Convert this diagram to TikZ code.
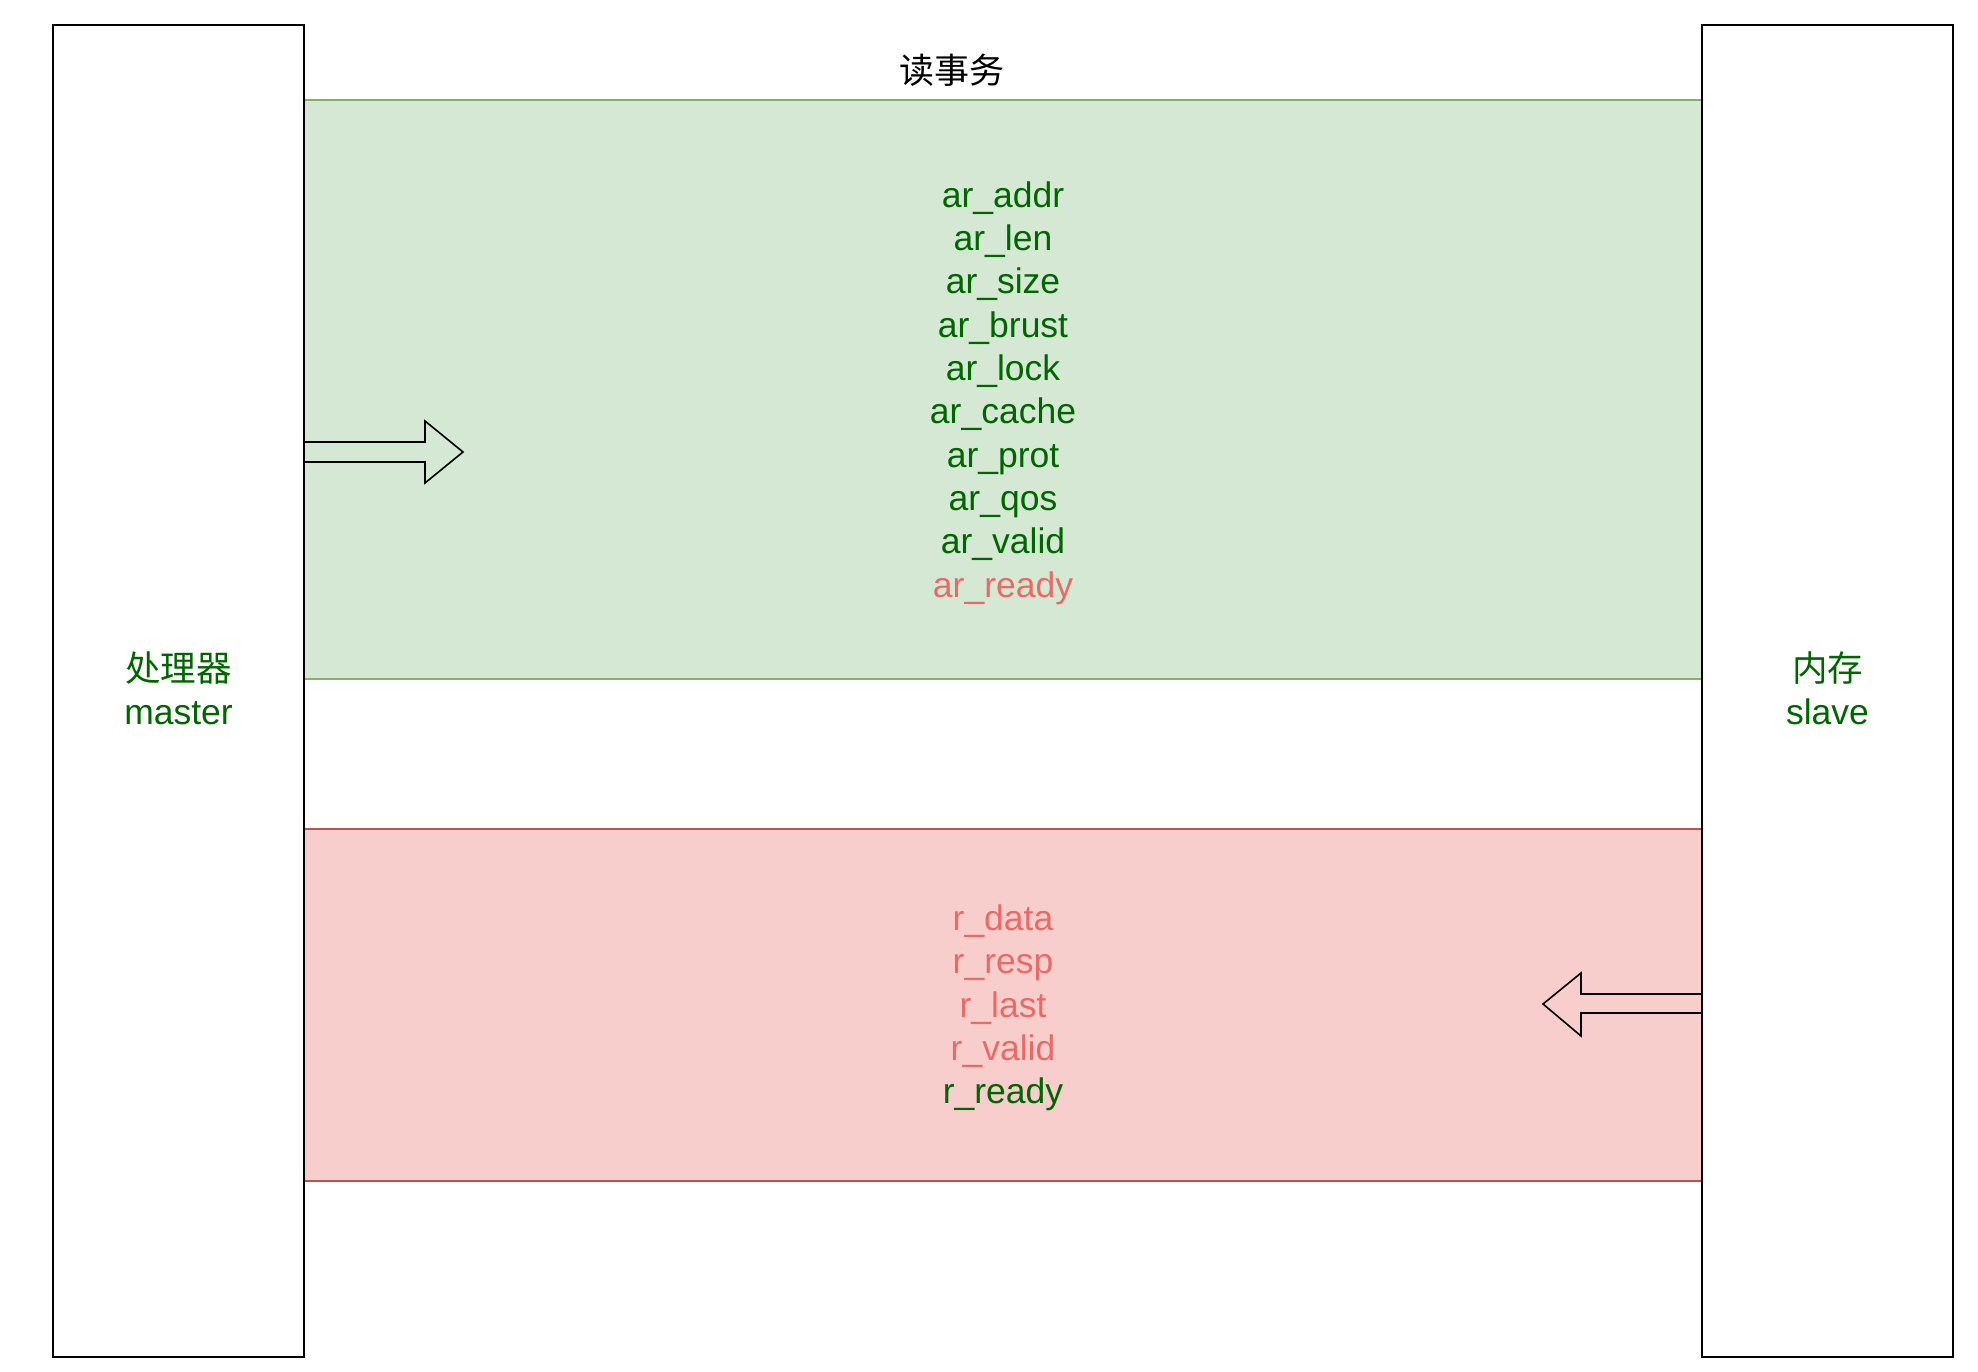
\documentclass[tikz,border=0pt]{standalone}
\usepackage{fontspec}
\setmainfont{Liberation Sans}
\newfontfamily\cjk{Noto Sans CJK SC}
\definecolor{gfill}{HTML}{D5E8D4}
\definecolor{gline}{HTML}{82B366}
\definecolor{rfill}{HTML}{F8CECC}
\definecolor{rline}{HTML}{B85450}
\definecolor{gtext}{HTML}{006600}
\definecolor{rtext}{HTML}{EA6B66}
\newcommand\labelfont{\fontsize{35.5}{43.3}\selectfont\lineskiplimit=-50pt\relax}
\begin{document}
\begin{tikzpicture}[x=1pt,y=-1pt,
  party/.style={draw=black,line width=1.6pt,fill=white},
  band/.style={line width=1.4pt},
  lbl/.style={font=\labelfont,align=center,inner sep=0pt},
  blockarrow/.style={draw=black,line width=1.6pt,fill=none,line join=miter}]
\useasboundingbox (0,0) rectangle (1978,1372);
% bands
\path[band,fill=gfill,draw=gline] (304,100) rectangle (1702,679);
\path[band,fill=rfill,draw=rline] (304,829) rectangle (1702,1181);
% parties
\node[party,minimum width=251pt,minimum height=1332pt,inner sep=0pt] (master) at (178.5,691) {};
\node[party,minimum width=251pt,minimum height=1332pt,inner sep=0pt] (slave) at (1827.5,691) {};
\node[lbl,text=gtext] (mlabel) at (178.5,688.5) {{\cjk 处理器}\\master};
\node[lbl,text=gtext] (slabel) at (1827.5,688.5) {{\cjk 内存}\\slave};
% title
\node[lbl,text=black,font=\cjk\fontsize{35}{43.3}\selectfont] (title) at (952,70) {读事务};
% signal lists
\node[lbl,text=gtext] (arlist) at (1003,393) {ar\_addr\\ar\_len\\ar\_size\\ar\_brust\\ar\_lock\\ar\_cache\\ar\_prot\\ar\_qos\\ar\_valid\\\textcolor{rtext}{ar\_ready}};
\node[lbl,text=rtext] (rlist) at (1003,1008) {r\_data\\r\_resp\\r\_last\\r\_valid\\\textcolor{gtext}{r\_ready}};
% block arrows
\draw[blockarrow] (304,442) -- (425,442) -- (425,421) -- (463,452) -- (425,483) -- (425,462) -- (304,462) -- cycle;
\draw[blockarrow] (1702,994) -- (1581,994) -- (1581,973) -- (1543,1004) -- (1581,1036) -- (1581,1013) -- (1702,1013) -- cycle;
\end{tikzpicture}
\end{document}
